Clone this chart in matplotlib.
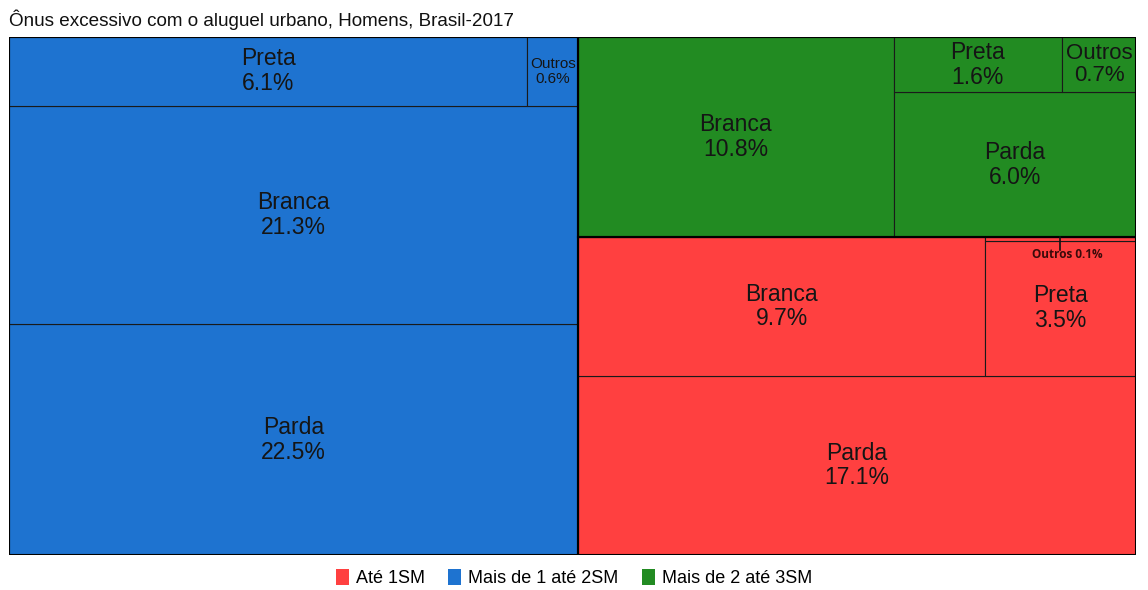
import matplotlib.pyplot as plt
from matplotlib.patches import Rectangle, Patch

plt.rcParams['font.family'] = ['Liberation Sans', 'DejaVu Sans']

# faixas de renda e seus valores (%)
faixas = ['Até 1SM', 'Mais de 1 até 2SM', 'Mais de 2 até 3SM']
cores = ['#FF4040', '#1E73D0', '#228B22']
racas = ['Branca', 'Parda', 'Preta', 'Outros']
ate1 = [9.7, 17.1, 3.5, 0.1]
de1a2 = [21.3, 22.5, 6.1, 0.6]
de2a3 = [10.8, 6.0, 1.6, 0.7]

valores = {faixas[0]: dict(zip(racas, ate1)),
           faixas[1]: dict(zip(racas, de1a2)),
           faixas[2]: dict(zip(racas, de2a3))}

# arranjo do treemap: 'h' divide em colunas (esq->dir), 'v' em linhas (baixo->cima)
f0, f1, f2 = faixas
arranjo = ('h', [
    ('v', [(f1, 'Parda'), (f1, 'Branca'), ('h', [(f1, 'Preta'), (f1, 'Outros')])]),
    ('v', [
        ('v', [(f0, 'Parda'), ('h', [(f0, 'Branca'), ('v', [(f0, 'Preta'), (f0, 'Outros')])])]),
        ('h', [(f2, 'Branca'), ('v', [(f2, 'Parda'), ('h', [(f2, 'Preta'), (f2, 'Outros')])])]),
    ]),
])


def total(no):
    if isinstance(no[1], str):
        return valores[no[0]][no[1]]
    return sum(total(n) for n in no[1])


folhas = []


def dispor(no, x, y, w, h):
    if isinstance(no[1], str):
        folhas.append((no, x, y, w, h))
        return
    soma = total(no)
    pos = 0.0
    for filho in no[1]:
        frac = total(filho) / soma
        if no[0] == 'h':
            dispor(filho, x + pos * w, y, frac * w, h)
        else:
            dispor(filho, x, y + pos * h, w, frac * h)
        pos += frac


dispor(arranjo, 0, 0, 1, 1)

fig = plt.figure(figsize=(11.48, 5.90), dpi=100)
ax = fig.add_axes([9 / 1148, 1 - 555 / 590, 1127 / 1148, 518 / 590])
ax.set_xlim(0, 1)
ax.set_ylim(0, 1)
ax.axis('off')

tam_fonte = {(f1, 'Outros'): 11, (f2, 'Outros'): 16}

limites = {}
for (faixa, raca), x, y, w, h in folhas:
    cor = cores[faixas.index(faixa)]
    ax.add_patch(Rectangle((x, y), w, h, facecolor=cor, edgecolor='#1a1a1a',
                           linewidth=0.8))
    b = limites.setdefault(faixa, [x, y, x + w, y + h])
    b[0], b[1] = min(b[0], x), min(b[1], y)
    b[2], b[3] = max(b[2], x + w), max(b[3], y + h)
    v = valores[faixa][raca]
    if faixa == f0 and raca == 'Outros':
        cx = x + w / 2
        ax.plot([cx, cx], [y + h, y + h - 0.025], color='#111111', lw=1.2)
        ax.text(cx + 0.006, y + h - 0.034, f'{raca} {v:.1f}%', ha='center', va='center',
                fontsize=8.5, fontweight='bold', color='#3a0a0a',
                family=['Open Sans', 'DejaVu Sans'])
        continue
    ax.text(x + w / 2, y + h / 2, f'{raca}\n{v:.1f}%', ha='center', va='center',
            fontsize=tam_fonte.get((faixa, raca), 16.5), color='#151515',
            linespacing=1.1)

for faixa, (x0, y0, x1, y1) in limites.items():
    ax.add_patch(Rectangle((x0, y0), x1 - x0, y1 - y0, facecolor='none',
                           edgecolor='black', linewidth=1.5))

fig.text(9 / 1148, 1 - 20 / 590, 'Ônus excessivo com o aluguel urbano, Homens, Brasil-2017',
         ha='left', va='center', fontsize=13.6, color='#111111')

alcas = [Patch(facecolor=c, edgecolor='none', label=f) for f, c in zip(faixas, cores)]
fig.legend(handles=alcas, loc='center', bbox_to_anchor=(0.5, 1 - 578 / 590), ncol=3,
           frameon=False, fontsize=13, handlelength=0.7, handleheight=1.0,
           handletextpad=0.4, columnspacing=1.3)

fig.savefig('out.png', dpi=100, facecolor='white')
